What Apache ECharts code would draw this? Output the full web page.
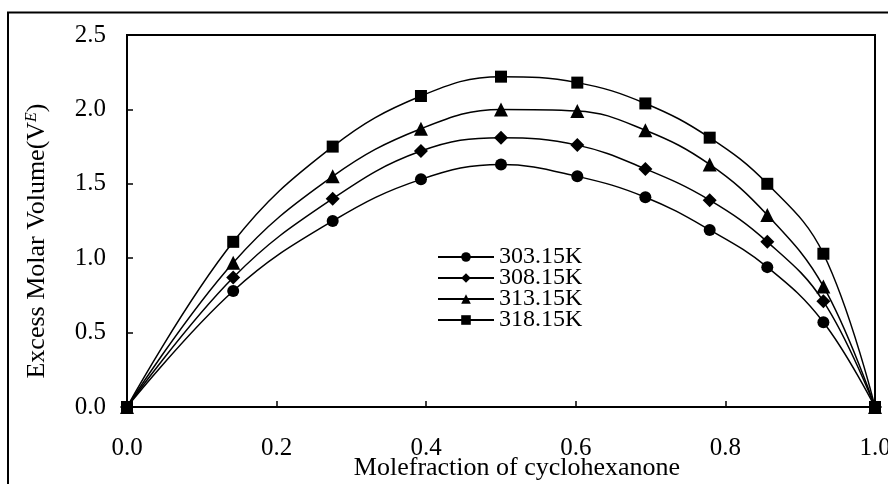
<!DOCTYPE html>
<html>
<head>
<meta charset="utf-8">
<script src="https://cdn.jsdelivr.net/npm/echarts@6/dist/echarts.min.js"></script>
<style>
html,body{margin:0;padding:0;background:#fff;}
#chart{width:888px;height:484px;}
</style>
</head>
<body>
<div id="chart"></div>
<script>
var xValues = [0, 0.142, 0.275, 0.393, 0.500, 0.602, 0.693, 0.779, 0.856, 0.931, 1.0];
var seriesNames = ['303.15K', '308.15K', '313.15K', '318.15K'];
var v303 = [0, 0.78, 1.25, 1.53, 1.63, 1.55, 1.41, 1.19, 0.94, 0.57, 0];
var v308 = [0, 0.87, 1.40, 1.72, 1.81, 1.76, 1.60, 1.39, 1.11, 0.71, 0];
var v313 = [0, 0.97, 1.55, 1.87, 2.00, 1.99, 1.86, 1.63, 1.29, 0.81, 0];
var v318 = [0, 1.11, 1.75, 2.09, 2.22, 2.18, 2.04, 1.81, 1.50, 1.03, 0];
var xTitle = 'Molefraction of cyclohexanone';
var yTitle = 'Excess Molar Volume(V{sup|E})';

var FONT = '"Liberation Serif","Times New Roman",serif';
var symbols = ['circle', 'diamond', 'triangle', 'rect'];
var sizes = [12, 14, 14, 12];
var allValues = [v303, v308, v313, v318];

function pairs(vals) {
  return xValues.map(function (x, i) { return [x, vals[i]]; });
}

var series = seriesNames.map(function (name, i) {
  return {
    name: name,
    type: 'line',
    data: pairs(allValues[i]),
    smooth: 0.4,
    symbol: symbols[i],
    symbolSize: sizes[i],
    clip: false,
    lineStyle: { color: '#000', width: 1.5 },
    itemStyle: { color: '#000' }
  };
});

var chart = echarts.init(document.getElementById('chart'), null, { renderer: 'canvas' });
chart.setOption({
  backgroundColor: '#fff',
  animation: false,
  grid: {
    left: 127, right: 13, top: 35, bottom: 77,
    outerBoundsMode: 'none',
    containLabel: false,
    show: true, borderColor: '#000', borderWidth: 2, backgroundColor: 'transparent'
  },
  legend: {
    orient: 'vertical',
    left: 432, top: 240,
    itemWidth: 56, itemHeight: 12, itemGap: -3,
    textStyle: { fontFamily: FONT, fontSize: 24, color: '#000', lineHeight: 21 },
    data: seriesNames
  },
  xAxis: {
    type: 'value',
    min: 0, max: 1, interval: 0.2,
    axisLine: { lineStyle: { color: '#000', width: 2 } },
    axisTick: { inside: true, length: 6, lineStyle: { color: '#000', width: 1.5 } },
    splitLine: { show: false },
    axisLabel: {
      margin: 29, color: '#000', fontFamily: FONT, fontSize: 25,
      formatter: function (v) { return v.toFixed(1); }
    },
    name: xTitle,
    nameLocation: 'middle',
    nameGap: 48,
    nameMoveOverlap: false,
    nameTextStyle: { fontFamily: FONT, fontSize: 26, color: '#000', padding: [0, 0, 0, 32] }
  },
  yAxis: {
    type: 'value',
    min: 0, max: 2.5, interval: 0.5,
    axisLine: { show: true, lineStyle: { color: '#000', width: 2 } },
    axisTick: { show: true, inside: true, length: 6, lineStyle: { color: '#000', width: 1.5 } },
    splitLine: { show: false },
    axisLabel: {
      margin: 21, color: '#000', fontFamily: FONT, fontSize: 25,
      formatter: function (v) { return v.toFixed(1); }
    },
    name: yTitle,
    nameLocation: 'middle',
    nameGap: 77,
    nameMoveOverlap: false,
    nameTextStyle: {
      fontFamily: FONT, fontSize: 26, color: '#000', padding: [0, 40, 0, 0],
      rich: { sup: { fontFamily: FONT, fontSize: 16, fontStyle: 'italic', verticalAlign: 'top', padding: [0, 0, 10, 0] } }
    }
  },
  graphic: [{
    type: 'rect',
    shape: { x: 8, y: 12.5, width: 900, height: 500 },
    style: { fill: 'none', stroke: '#000', lineWidth: 2 },
    silent: true, z: 100
  }],
  series: series
});
</script>
</body>
</html>
